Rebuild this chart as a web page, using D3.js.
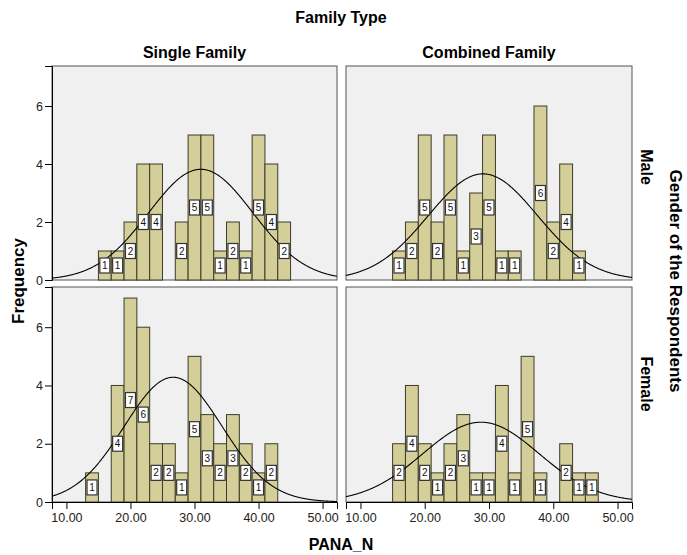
<!DOCTYPE html>
<html>
<head>
<meta charset="utf-8">
<script src="https://cdn.jsdelivr.net/npm/d3@7"></script>
<style>
  body { margin: 0; background: #fff; }
  svg { display: block; font-family: "Liberation Sans", Arial, sans-serif; }
</style>
</head>
<body>
<svg id="chart" width="687" height="555"></svg>
<script>
// ---- Data ----
const familyTypes = ["Single Family", "Combined Family"];
const genders = ["Male", "Female"];
const binStarts = [13, 15, 17, 19, 21, 23, 25, 27, 29, 31, 33, 35, 37, 39, 41, 43, 45];
const binWidth = 2;
// counts per bin (aligned with binStarts)
const singleMale     = [0, 1, 1, 2, 4, 4, 0, 2, 5, 5, 1, 2, 1, 5, 4, 2, 0];
const combinedMale   = [0, 1, 2, 5, 2, 5, 1, 3, 5, 1, 1, 0, 6, 2, 4, 1, 0];
const singleFemale   = [1, 0, 4, 7, 6, 2, 2, 1, 5, 3, 2, 3, 2, 1, 2, 0, 0];
const combinedFemale = [0, 2, 4, 2, 1, 2, 3, 1, 1, 4, 1, 5, 1, 0, 2, 1, 1];
// normal curve parameters: [mean, sd]
const curveMale   = [[30.98, 8.15], [29.06, 8.5]];
const curveFemale = [[26.67, 7.64], [28.75, 9.03]];
const xTicks = [10, 20, 30, 40, 50];
const yTicks = [0, 2, 4, 6];

const panelCounts = [[singleMale, combinedMale], [singleFemale, combinedFemale]];
const panelCurves = [curveMale, curveFemale];

// ---- Layout ----
const svg = d3.select("#chart");
const colX = [[52, 337], [346, 632]];
const rowY = [[66, 280], [287, 502]];
const xDomain = [7.75, 52.25];
const yDomain = [0, 7.38];

const barFill = "#d4cf99";
const barStroke = "#3d3b2c";
const panelBg = "#f0f0f0";
const FONT = "Liberation Sans, Arial, sans-serif";

// titles
svg.append("text").attr("x", 341).attr("y", 23).attr("text-anchor", "middle")
  .attr("font-size", 16).attr("font-weight", "bold").text("Family Type");
familyTypes.forEach((f, i) => {
  svg.append("text").attr("x", (colX[i][0] + colX[i][1]) / 2).attr("y", 58)
    .attr("text-anchor", "middle").attr("font-size", 16).attr("font-weight", "bold").text(f);
});
const rowLabelY = [167, 384];
genders.forEach((g, j) => {
  svg.append("text").attr("transform", `translate(641,${rowLabelY[j]}) rotate(90)`)
    .attr("text-anchor", "middle").attr("font-size", 16).attr("font-weight", "bold").text(g);
});
svg.append("text").attr("transform", `translate(670,281) rotate(90)`)
  .attr("text-anchor", "middle").attr("font-size", 17).attr("font-weight", "bold")
  .text("Gender of the Respondents");
svg.append("text").attr("transform", `translate(24,281) rotate(-90)`)
  .attr("text-anchor", "middle").attr("font-size", 17).attr("font-weight", "bold")
  .text("Frequency");
svg.append("text").attr("x", 341).attr("y", 550).attr("text-anchor", "middle")
  .attr("font-size", 16).attr("font-weight", "bold").text("PANA_N");

let clipId = 0;
genders.forEach((g, j) => {
  familyTypes.forEach((f, i) => {
    const x = d3.scaleLinear().domain(xDomain).range(colX[i]);
    const y = d3.scaleLinear().domain(yDomain).range([rowY[j][1], rowY[j][0]]);
    const counts = panelCounts[j][i];
    const [mu, sd] = panelCurves[j][i];
    const N = d3.sum(counts);
    const gp = svg.append("g");

    // background
    gp.append("rect").attr("x", colX[i][0]).attr("y", rowY[j][0])
      .attr("width", colX[i][1] - colX[i][0]).attr("height", rowY[j][1] - rowY[j][0])
      .attr("fill", panelBg).attr("stroke", "#555").attr("stroke-width", 1);

    const id = "clip" + (clipId++);
    gp.append("clipPath").attr("id", id).append("rect")
      .attr("x", colX[i][0]).attr("y", rowY[j][0])
      .attr("width", colX[i][1] - colX[i][0]).attr("height", rowY[j][1] - rowY[j][0]);

    const bins = binStarts.map((b, k) => ({ x0: b, x1: b + binWidth, n: counts[k] })).filter(d => d.n > 0);

    gp.selectAll("rect.bar").data(bins).enter().append("rect").attr("class", "bar")
      .attr("x", d => x(d.x0)).attr("width", d => x(d.x1) - x(d.x0))
      .attr("y", d => y(d.n)).attr("height", d => y(0) - y(d.n))
      .attr("fill", barFill).attr("stroke", barStroke).attr("stroke-width", 1);

    // normal curve
    const pts = d3.range(xDomain[0], xDomain[1] + 0.01, 0.1).map(v => [v,
      N * binWidth * Math.exp(-0.5 * ((v - mu) / sd) ** 2) / (sd * Math.sqrt(2 * Math.PI))]);
    gp.append("path").datum(pts)
      .attr("d", d3.line().x(d => x(d[0])).y(d => y(d[1])).curve(d3.curveBasis))
      .attr("fill", "none").attr("stroke", "#000").attr("stroke-width", 1.1)
      .attr("clip-path", `url(#${id})`);

    // labels
    const lab = gp.selectAll("g.lab").data(bins).enter().append("g").attr("class", "lab")
      .attr("transform", d => `translate(${x((d.x0 + d.x1) / 2)},${y(d.n / 2)})`);
    lab.append("rect").attr("x", -5).attr("y", -7.5).attr("width", 10).attr("height", 15)
      .attr("fill", "#fff").attr("stroke", "#333").attr("stroke-width", 1.2);
    lab.append("text").attr("text-anchor", "middle").attr("dy", "0.36em")
      .attr("font-size", 10).attr("fill", "#111").text(d => d.n);

    // y axis on left column
    if (i === 0) {
      const ay = gp.append("g").attr("transform", `translate(${colX[0][0]},0)`)
        .call(d3.axisLeft(y).tickValues(yTicks).tickSize(7).tickPadding(2).tickFormat(d3.format("d")));
      ay.select(".domain").attr("stroke", "#000");
      ay.selectAll("text").attr("font-size", 12.5).attr("font-family", FONT).attr("fill", "#222");
    }
    // x axis on bottom row
    if (j === 1) {
      const ax = gp.append("g").attr("transform", `translate(0,${rowY[1][1]})`)
        .call(d3.axisBottom(x).tickValues(xTicks).tickSize(7).tickPadding(4).tickFormat(d3.format(".2f")));
      ax.select(".domain").attr("stroke", "#000");
      ax.selectAll("text").attr("font-size", 12.5).attr("font-family", FONT).attr("fill", "#222");
    }
  });
});
</script>
</body>
</html>
